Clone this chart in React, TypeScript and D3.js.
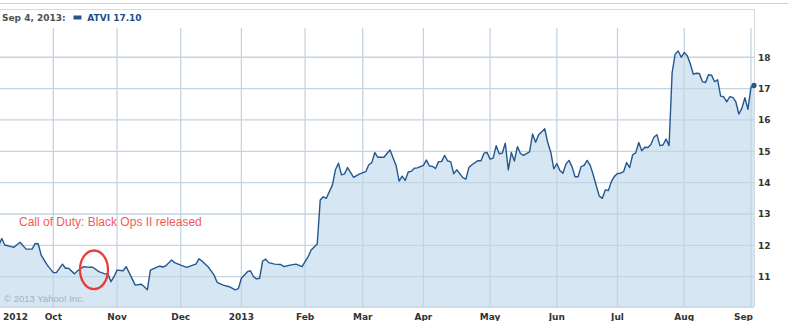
import React from "react";
import * as d3 from "d3";

// ---- data ----
// trading-day index counted from Sep 4, 2012 (day 0) to Sep 4, 2013 (day 250)
const tradingDays = [
  0, 1, 2, 3, 5, 6, 8, 10, 12, 13, 14, 15, 17, 19, 20, 22, 23, 24, 26, 27, 29, 30, 32, 34, 36, 37, 38, 39,
  40, 42, 43, 44, 46, 48, 49, 50, 51, 53, 54, 55, 56, 58, 59, 61, 63, 65, 66, 67, 68, 70, 72, 73, 75, 77,
  79, 80, 81, 83, 84, 85, 86, 87, 88, 89, 90, 92, 94, 95, 97, 99, 101, 102, 103, 104, 106, 107, 108, 109,
  111, 112, 113, 114, 115, 116, 118, 120, 122, 123, 124, 125, 126, 128, 129, 130, 132, 133, 134, 135, 136,
  137, 138, 139, 141, 142, 143, 144, 145, 146, 147, 148, 149, 150, 151, 152, 154, 155, 156, 157, 159, 160,
  161, 162, 163, 164, 165, 166, 167, 168, 169, 170, 171, 172, 173, 174, 176, 177, 178, 179, 180, 181, 182,
  183, 184, 185, 186, 187, 188, 189, 190, 191, 192, 193, 194, 195, 196, 197, 198, 199, 200, 201, 202, 203,
  204, 205, 206, 207, 208, 209, 210, 211, 212, 213, 214, 215, 216, 217, 218, 219, 220, 221, 222, 223, 224,
  225, 226, 227, 228, 229, 230, 231, 232, 233, 234, 235, 236, 237, 238, 239, 240, 241, 242, 243, 244, 245,
  246, 247, 248, 249, 250,
];
const closes = [
  12.05, 12.0, 12.22, 12.01, 11.96, 11.94, 12.1, 11.88, 11.88, 12.06, 12.05, 11.69, 11.37, 11.13, 11.13,
  11.4, 11.27, 11.27, 11.09, 11.19, 11.32, 11.31, 11.3, 11.16, 11.09, 11.09, 10.84, 11.0,
  11.21, 11.19, 11.32, 11.13, 10.73, 10.76, 10.68, 10.58, 11.21, 11.3, 11.34, 11.31, 11.34, 11.53, 11.45,
  11.37, 11.3, 11.37, 11.4, 11.57, 11.5, 11.32, 11.05, 10.82, 10.73, 10.68,
  10.58, 10.62, 10.95, 11.16, 11.19, 11.0, 10.93, 10.95, 11.5, 11.56, 11.45, 11.4, 11.39, 11.32, 11.37,
  11.4, 11.32, 11.48, 11.64, 11.85, 12.04, 13.45, 13.55, 13.5,
  13.92, 14.41, 14.62, 14.25, 14.28, 14.48, 14.17, 14.28, 14.35, 14.57, 14.64, 14.96, 14.81, 14.81, 14.93,
  15.04, 14.55, 14.05, 14.21, 14.07, 14.34,
  14.36, 14.46, 14.47, 14.55, 14.72, 14.53, 14.52, 14.45, 14.67, 14.67, 14.87, 14.69, 14.67, 14.28, 14.41,
  14.16, 14.11, 14.48, 14.57, 14.7, 14.7,
  14.94, 14.96, 14.75, 14.78, 15.18, 14.92, 14.94, 15.26, 14.41, 14.96, 14.69, 15.15, 14.93, 14.87, 14.98,
  15.55, 15.29, 15.53, 15.62, 15.72, 15.28,
  14.97, 14.44, 14.61, 14.39, 14.3, 14.59, 14.71, 14.51, 14.19, 14.19, 14.51, 14.55, 14.71, 14.55, 14.25,
  13.9, 13.57, 13.5, 13.77, 13.75, 14.04,
  14.2, 14.29, 14.3, 14.35, 14.64, 14.48, 14.89, 14.95, 15.28, 15.02, 15.13, 15.12, 15.22, 15.45, 15.53,
  15.18, 15.2, 15.39, 15.18, 17.5, 18.1,
  18.2, 18.0, 18.15, 18.05, 17.79, 17.46, 17.49, 17.48, 17.22, 17.19, 17.44, 17.43, 17.22, 17.28, 16.76,
  16.74, 16.58, 16.74, 16.72, 16.58, 16.19,
  16.37, 16.71, 16.34, 17.05, 17.1,
];
const monthTickDays = [0, 19, 40, 61, 81, 102, 121, 141, 163, 185, 205, 227, 249];
const monthTickLabels = ["2012", "Oct", "Nov", "Dec", "2013", "Feb", "Mar", "Apr", "May", "Jun", "Jul", "Aug", "Sep"];
const priceTicks = [11, 12, 13, 14, 15, 16, 17, 18];
const headerDate = "Sep 4, 2013:";
const headerSymbol = "ATVI 17.10";
const annotationText = "Call of Duty: Black Ops II released";
const annotationDay = 32.4;
const annotationPrice = 11.22;
const copyrightText = "\u00A9 2013 Yahoo! Inc.";

const W = 788;
const H = 321;
const plotRight = 754;
const plotTop = 28;
const plotBottom = 307;

export default function App() {
  const x = d3.scaleLinear().domain([0, 250]).range([-4.3, plotRight]);
  const y = d3.scaleLinear().domain([11, 18]).range([276.7, 57.25]);
  const pts: [number, number][] = tradingDays.map((d, i) => [d, closes[i]]);

  const line = d3
    .line<[number, number]>()
    .x((d) => x(d[0]))
    .y((d) => y(d[1]));
  const area = d3
    .area<[number, number]>()
    .x((d) => x(d[0]))
    .y0(plotBottom)
    .y1((d) => y(d[1]));

  const gridColor = "#c5d4e1";
  const labelFont = "'DejaVu Sans', Verdana, sans-serif";
  const last = pts[pts.length - 1];

  return (
    <div style={{ position: "absolute", left: 0, top: 0 }}>
      <svg width={W} height={H} style={{ display: "block" }}>
        <rect x={0} y={0} width={W} height={H} fill="#fff" />
        <defs>
          <clipPath id="plotClip">
            <rect x={0} y={plotTop} width={plotRight} height={plotBottom - plotTop} />
          </clipPath>
        </defs>
        {/* frame */}
        <line x1={0} x2={W} y1={3.5} y2={3.5} stroke="#d0d0d0" strokeWidth={1} />
        <line x1={0} x2={plotRight} y1={9.5} y2={9.5} stroke="#d4dbe1" strokeWidth={1} />
        <line x1={plotRight + 0.5} x2={plotRight + 0.5} y1={9.5} y2={plotBottom} stroke="#d4dbe1" strokeWidth={1} />

        {/* area */}
        <g clipPath="url(#plotClip)">
          <path d={area(pts) || ""} fill="#d6e6f2" />
        </g>

        {/* grid */}
        {priceTicks.map((t) => (
          <line key={"h" + t} x1={0} x2={plotRight} y1={y(t)} y2={y(t)} stroke={gridColor} strokeWidth={1.3} />
        ))}
        <line x1={0} x2={plotRight} y1={plotBottom} y2={plotBottom} stroke={gridColor} strokeWidth={1.3} />
        {monthTickDays.map((d) => (
          <line key={"v" + d} x1={x(d)} x2={x(d)} y1={plotTop} y2={plotBottom} stroke={gridColor} strokeWidth={1.3} />
        ))}

        {/* line */}
        <g clipPath="url(#plotClip)">
          <path d={line(pts) || ""} fill="none" stroke="#24578f" strokeWidth={1.4} strokeLinejoin="round" />
        </g>
        <circle cx={x(last[0])} cy={y(last[1])} r={2.6} fill="#24578f" />

        {/* y labels */}
        {priceTicks.map((t) => (
          <text key={"yl" + t} x={758} y={y(t) + 3.3} fontFamily={labelFont} fontWeight="bold" fontSize={9} fill="#333">
            {t}
          </text>
        ))}

        {/* x labels */}
        {monthTickDays.map((d, i) => {
          const cx = x(d);
          const lbl = monthTickLabels[i];
          const half = lbl.length * 3.2;
          let anchor = "middle";
          let lx = cx;
          if (cx - half < 0) {
            anchor = "start";
            lx = 3;
          } else if (cx + half > plotRight) {
            anchor = "end";
            lx = plotRight - 1;
          }
          return (
            <text key={"xl" + d} x={lx} y={319.5} textAnchor={anchor} fontFamily={labelFont} fontWeight="bold" fontSize={9} fill="#333">
              {lbl}
            </text>
          );
        })}

        {/* header */}
        <text x={2} y={20.7} fontFamily={labelFont} fontWeight="bold" fontSize={9} fill="#505050">
          {headerDate}
        </text>
        <rect x={73.5} y={15.5} width={8} height={4} fill="#24578f" />
        <text x={87.3} y={20.7} fontFamily={labelFont} fontWeight="bold" fontSize={9} fill="#1f4e8c">
          {headerSymbol}
        </text>

        {/* annotation */}
        <text x={19} y={226} fontFamily="'Liberation Sans', Arial, sans-serif" fontSize={12} fill="#f45a5a">
          {annotationText}
        </text>
        <ellipse cx={x(annotationDay)} cy={y(annotationPrice)} rx={14} ry={19.3} fill="none" stroke="#ea3b3b" strokeWidth={2.3} />

        {/* copyright */}
        <text x={4} y={301.5} fontFamily="'Liberation Sans', Arial, sans-serif" fontSize={9.5} fill="#a7b1ba">
          {copyrightText}
        </text>
      </svg>
    </div>
  );
}
